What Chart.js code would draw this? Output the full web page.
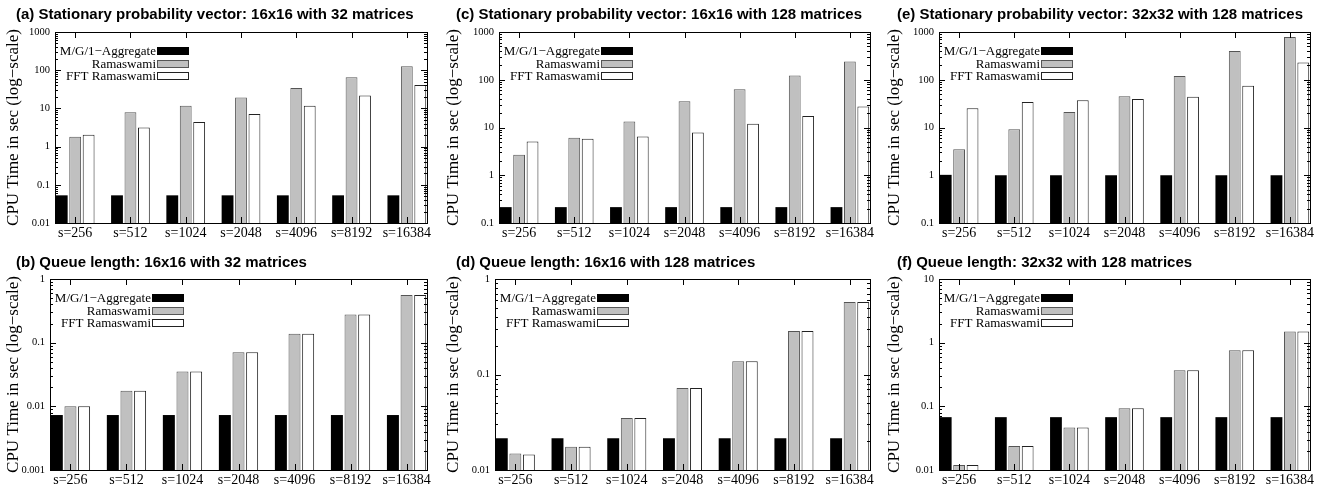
<!DOCTYPE html>
<html>
<head>
<meta charset="utf-8">
<script src="https://cdn.jsdelivr.net/npm/chart.js@4.4.0/dist/chart.umd.min.js"></script>
<style>
  body { margin: 0; background: #fff; width: 1330px; height: 487px; position: relative; overflow: hidden; }
  canvas { position: absolute; }
</style>
</head>
<body>
<canvas id="chartA"></canvas>
<canvas id="chartC"></canvas>
<canvas id="chartE"></canvas>
<canvas id="chartB"></canvas>
<canvas id="chartD"></canvas>
<canvas id="chartF"></canvas>
<script>
// problem sizes on the x axis
const sizes = ['s=256', 's=512', 's=1024', 's=2048', 's=4096', 's=8192', 's=16384'];
const seriesNames = ['M/G/1\u2212Aggregate', 'Ramaswami', 'FFT Ramaswami'];

// (a) stationary probability vector, 16x16, 32 matrices
const aggA = [0.053, 0.053, 0.053, 0.053, 0.053, 0.053, 0.053];
const ramA = [1.8, 7.9, 11.7, 19.4, 34, 65, 126];
const fftA = [2.05, 3.15, 4.4, 7.1, 11.7, 21.8, 41];
const ticksA = [0.01, 0.1, 1, 10, 100, 1000];

// (c) stationary probability vector, 16x16, 128 matrices
const aggC = [0.215, 0.215, 0.215, 0.215, 0.215, 0.215, 0.215];
const ramC = [2.7, 6.1, 13.3, 35.5, 63, 123, 240];
const fftC = [5.1, 5.8, 6.5, 7.9, 12, 17.5, 27.5];
const ticksC = [0.1, 1, 10, 100, 1000];

// (e) stationary probability vector, 32x32, 128 matrices
const aggE = [1.02, 1.0, 1.0, 1.0, 1.0, 1.0, 1.0];
const ramE = [3.5, 9.2, 21, 45, 120, 400, 790];
const fftE = [25.3, 34, 37, 39.5, 44, 75, 230];
const ticksE = [0.1, 1, 10, 100, 1000];

// (b) queue length, 16x16, 32 matrices
const aggB = [0.0073, 0.0073, 0.0073, 0.0073, 0.0073, 0.0073, 0.0073];
const ramB = [0.01, 0.0175, 0.0352, 0.071, 0.138, 0.278, 0.56];
const fftB = [0.01, 0.0175, 0.0352, 0.071, 0.138, 0.278, 0.56];
const ticksB = [0.001, 0.01, 0.1, 1];

// (d) queue length, 16x16, 128 matrices
const aggD = [0.0215, 0.0215, 0.0215, 0.0215, 0.0215, 0.0215, 0.0215];
const ramD = [0.0149, 0.0175, 0.035, 0.072, 0.138, 0.286, 0.573];
const fftD = [0.0145, 0.0175, 0.035, 0.072, 0.138, 0.286, 0.573];
const ticksD = [0.01, 0.1, 1];

// (f) queue length, 32x32, 128 matrices
const aggF = [0.0676, 0.0676, 0.0676, 0.0676, 0.0676, 0.0676, 0.0676];
const ramF = [0.012, 0.0239, 0.0464, 0.0934, 0.37, 0.76, 1.5];
const fftF = [0.012, 0.0239, 0.0464, 0.0934, 0.37, 0.76, 1.5];
const ticksF = [0.01, 0.1, 1, 10];

const row1 = { top: 0, height: 243, titleY: 15, plotTop: 32, plotBottom: 223 };
const row2 = { top: 247, height: 240, titleY: 16, plotTop: 32, plotBottom: 223 };

const panels = [
  { id: 'chartA', title: '(a) Stationary probability vector: 16x16 with 32 matrices', row: row1, left: 0, plotLeft: 55, plotRight: 427, data: [aggA, ramA, fftA], ticks: ticksA },
  { id: 'chartC', title: '(c) Stationary probability vector: 16x16 with 128 matrices', row: row1, left: 440, plotLeft: 59, plotRight: 430, data: [aggC, ramC, fftC], ticks: ticksC },
  { id: 'chartE', title: '(e) Stationary probability vector: 32x32 with 128 matrices', row: row1, left: 881, plotLeft: 58, plotRight: 429, data: [aggE, ramE, fftE], ticks: ticksE },
  { id: 'chartB', title: '(b) Queue length: 16x16 with 32 matrices', row: row2, left: 0, plotLeft: 50, plotRight: 427, data: [aggB, ramB, fftB], ticks: ticksB },
  { id: 'chartD', title: '(d) Queue length: 16x16 with 128 matrices', row: row2, left: 440, plotLeft: 55, plotRight: 430, data: [aggD, ramD, fftD], ticks: ticksD },
  { id: 'chartF', title: '(f) Queue length: 32x32 with 128 matrices', row: row2, left: 881, plotLeft: 58, plotRight: 429, data: [aggF, ramF, fftF], ticks: ticksF }
];

const fills = ['#000000', '#c0c0c0', '#ffffff'];
const borders = ['#000000', '#555555', '#222222'];
const serif = 'Liberation Serif';
const PANEL_W = 443;

// box, inward tics and the key, gnuplot style
const gnuplotFrame = {
  id: 'gnuplotFrame',
  afterDraw(chart) {
    const { ctx, chartArea: a, scales } = chart;
    const x = scales.x, y = scales.y;
    ctx.save();
    ctx.strokeStyle = '#000';
    ctx.lineWidth = 1;
    ctx.strokeRect(Math.round(a.left) + 0.5, Math.round(a.top) + 0.5,
      Math.round(a.right - a.left), Math.round(a.bottom - a.top));

    ctx.beginPath();
    sizes.forEach((_, i) => {
      const px = Math.round(x.getPixelForValue(i)) + 0.5;
      ctx.moveTo(px, a.bottom); ctx.lineTo(px, a.bottom - 6);
      ctx.moveTo(px, a.top); ctx.lineTo(px, a.top + 6);
    });
    const lo = Math.log10(y.min), hi = Math.log10(y.max);
    for (let d = Math.floor(lo); d <= hi; d++) {
      for (let m = 1; m <= 9; m++) {
        const v = m * Math.pow(10, d);
        if (v < y.min * 0.999 || v > y.max * 1.001) continue;
        const py = Math.round(y.getPixelForValue(v)) + 0.5;
        const len = m === 1 ? 6 : 3;
        ctx.moveTo(a.left, py); ctx.lineTo(a.left + len, py);
        ctx.moveTo(a.right, py); ctx.lineTo(a.right - len, py);
      }
    }
    ctx.stroke();

    // key
    const boxRight = a.left + 134;
    ctx.font = '13px "' + serif + '"';
    ctx.textAlign = 'right';
    ctx.textBaseline = 'middle';
    chart.data.datasets.forEach((ds, i) => {
      const cy = Math.round(a.top + 19 + i * 12.5);
      ctx.fillStyle = '#000';
      ctx.fillText(ds.label, boxRight - 33, cy + 1);
      ctx.fillStyle = ds.backgroundColor;
      ctx.fillRect(boxRight - 32, cy - 4, 32, 8);
      ctx.strokeStyle = ds.borderColor;
      ctx.strokeRect(boxRight - 31.5, cy - 3.5, 31, 7);
    });
    ctx.restore();
  }
};

function makeChart(p) {
  const canvas = document.getElementById(p.id);
  canvas.width = PANEL_W;
  canvas.height = p.row.height;
  canvas.style.left = p.left + 'px';
  canvas.style.top = p.row.top + 'px';

  const titleSize = 15, titleLh = titleSize * 1.2;
  const yTitleSize = 17, yTitleLh = yTitleSize * 1.2;

  new Chart(canvas, {
    type: 'bar',
    data: {
      datasets: p.data.map((vals, k) => ({
        label: seriesNames[k],
        data: vals.map((v, i) => ({ x: i, y: v })),
        backgroundColor: fills[k],
        borderColor: borders[k],
        borderWidth: k === 0 ? 0 : 1,
        categoryPercentage: 0.73,
        barPercentage: 0.88
      }))
    },
    options: {
      responsive: false,
      animation: false,
      devicePixelRatio: 1,
      layout: { padding: { left: 16, right: PANEL_W - p.plotRight, top: 0, bottom: 0 } },
      plugins: {
        legend: { display: false },
        tooltip: { enabled: false },
        title: {
          display: true,
          text: p.title,
          align: 'start',
          color: '#000',
          font: { family: 'Liberation Sans', size: titleSize, weight: 'bold' },
          padding: { top: p.row.titleY - titleLh / 2, bottom: p.row.plotTop - p.row.titleY - titleLh / 2 }
        }
      },
      scales: {
        x: {
          type: 'linear',
          offset: false,
          min: -0.365,
          max: 6.365,
          grid: { display: false, drawTicks: false },
          border: { display: false },
          afterBuildTicks: s => { s.ticks = sizes.map((_, i) => ({ value: i })); },
          afterFit: s => { s.height = p.row.height - p.row.plotBottom; },
          ticks: {
            autoSkip: false,
            maxRotation: 0,
            padding: 2,
            color: '#000',
            font: { family: serif, size: 14 },
            callback: v => sizes[v]
          }
        },
        y: {
          type: 'logarithmic',
          min: p.ticks[0],
          max: p.ticks[p.ticks.length - 1],
          grid: { display: false, drawTicks: false },
          border: { display: false },
          afterBuildTicks: s => { s.ticks = p.ticks.map(v => ({ value: v })); },
          afterFit: s => { s.width = p.plotLeft - 16; },
          ticks: {
            padding: 5,
            color: '#000',
            font: { family: serif, size: 10.5 },
            callback: v => String(v)
          },
          title: {
            display: true,
            text: 'CPU Time in sec (log\u2212scale)',
            color: '#000',
            font: { family: serif, size: yTitleSize },
            padding: { top: 14 - 16 - yTitleLh / 2, bottom: 0 }
          }
        }
      }
    },
    plugins: [gnuplotFrame]
  });
}

panels.forEach(makeChart);
</script>
</body>
</html>
